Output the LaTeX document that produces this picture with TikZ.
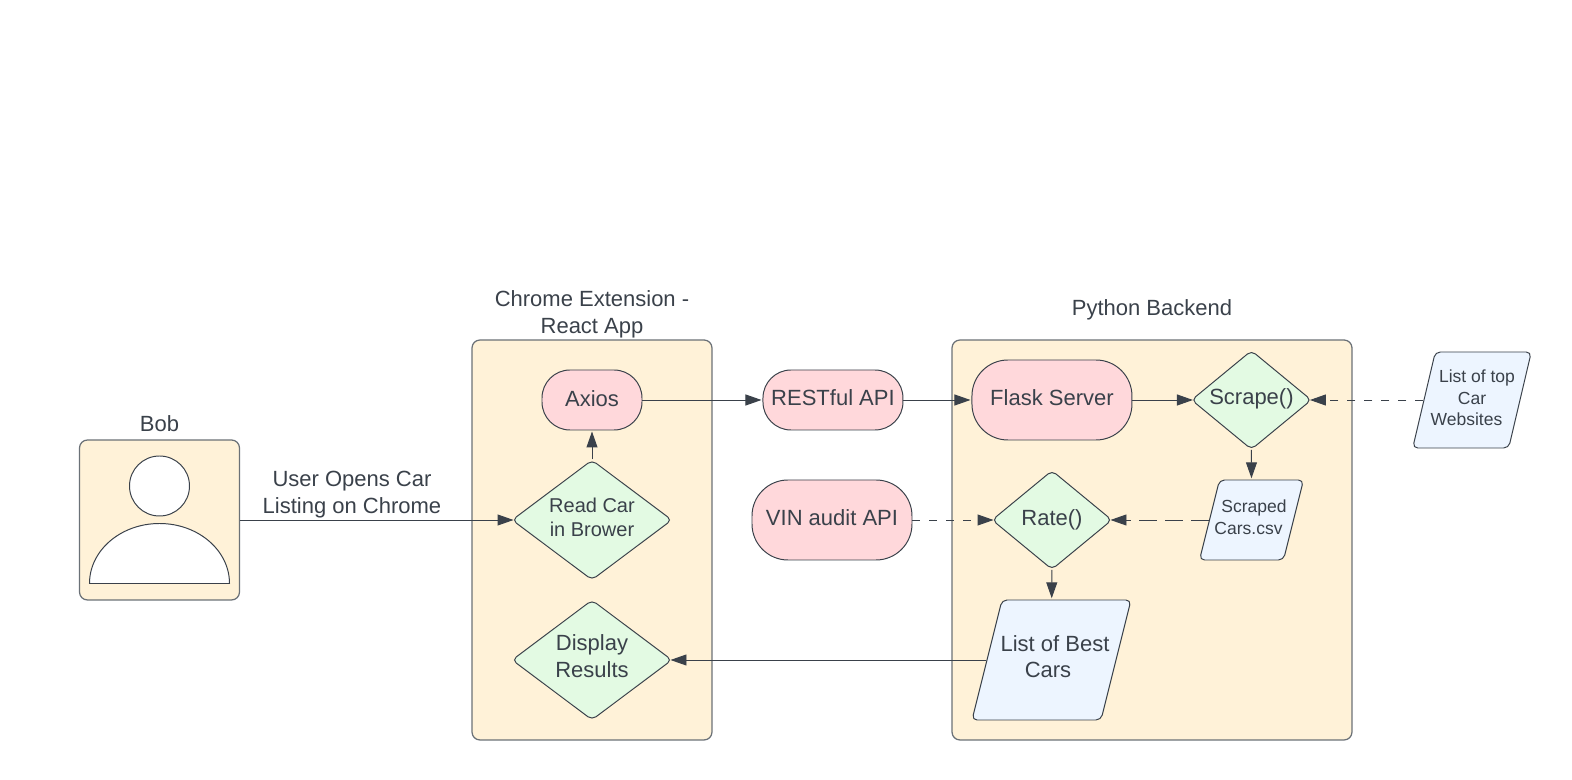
\documentclass[tikz,border=0pt]{standalone}
\usepackage{fontspec}
\setmainfont{Liberation Sans}
\usepackage{xcolor}
\usetikzlibrary{arrows.meta,positioning,shapes.geometric,calc}

\definecolor{inkGray}{HTML}{3A414A}
\definecolor{panelTan}{HTML}{FFF2D8}
\definecolor{apiPink}{HTML}{FFD8DB}
\definecolor{stepGreen}{HTML}{E3FAE3}
\definecolor{fileBlue}{HTML}{EDF5FF}

\newcommand{\bigText}{\fontsize{6.26}{7.57}\selectfont}
\newcommand{\midText}{\fontsize{5.69}{6.83}\selectfont}
\newcommand{\smallText}{\fontsize{4.98}{6.1}\selectfont}

% name, centre, half width, half height, slant, font and lift, text
\newcommand{\slantbox}[7]{
  \draw[fileShape, shift={(#2)}] (-#3+#5,#4) -- (#3+#5,#4) -- (#3-#5,-#4) -- (-#3-#5,-#4) -- cycle;
  \node[fileText, minimum width=2*#3 cm, minimum height=2*#4 cm, #6] (#1) at (#2) {#7};
}

\begin{document}
\begin{tikzpicture}[
  panel/.style={rectangle, rounded corners=0.8mm, draw=inkGray!75, fill=panelTan, line width=0.36pt, inner sep=0pt},
  pill/.style={rectangle, rounded corners=2.8mm, draw=inkGray, fill=apiPink, line width=0.28pt,
    align=center, inner sep=0pt, font=\bigText, text=inkGray},
  decision/.style={diamond, aspect=1.3, rounded corners=0.5mm, draw=inkGray, fill=stepGreen, line width=0.28pt,
    align=center, inner sep=0pt, font=\bigText, text=inkGray},
  fileShape/.style={rounded corners=0.5mm, draw=inkGray, fill=fileBlue, line width=0.28pt},
  fileText/.style={rectangle, align=center, inner sep=0pt, text=inkGray},
  caption/.style={align=center, inner sep=0pt, font=\bigText, text=inkGray},
  arrow/.style={-{Triangle[length=1.6mm,width=1.1mm]}, line width=0.28pt, draw=inkGray, shorten >=0.1mm},
  toDecision/.style={arrow, shorten >=-0.2mm},
  dashArrow/.style={toDecision, dash pattern=on 0.8mm off 0.9mm}
]
  \useasboundingbox (0,0) rectangle (15.72,-7.8);

  \node[panel, minimum width=1.6cm, minimum height=1.6cm] (bobBox) at (1.595,-5.2) {};
  \node[caption, above=0.07cm of bobBox] (bob) {Bob};
  \node[circle, draw=inkGray, fill=white, line width=0.28pt, minimum size=0.6cm, inner sep=0pt] (head) at (1.595,-4.86) {};
  \draw[draw=inkGray, fill=white, line width=0.28pt] (0.895,-5.835) arc[start angle=180, end angle=0, x radius=0.7, y radius=0.6] -- cycle;

  \node[panel, minimum width=2.4cm, minimum height=4cm] (chrome) at (5.92,-5.4) {};
  \node[caption, above=0.01cm of chrome] (chromeLabel) {Chrome Extension -\\React App};
  \node[panel, minimum width=4cm, minimum height=4cm] (backend) at (11.52,-5.4) {};
  \node[caption, above=0.19cm of backend] (backendLabel) {Python Backend};

  \node[pill, minimum width=1cm, minimum height=0.6cm, text depth=0.02cm] (axios) at (5.92,-4) {Axios};
  \node[decision, font=\midText, minimum width=1.6cm, minimum height=1.2cm, text depth=0.06cm] (readCar) at (5.92,-5.2) {Read Car\\in Brower};
  \node[decision, minimum width=1.6cm, minimum height=1.2cm, text depth=0.08cm] (results) at (5.92,-6.6) {Display\\Results};

  \node[pill, minimum width=1.4cm, minimum height=0.6cm, text depth=0.04cm, right=1.2cm of axios] (rest) {RESTful API};
  \node[pill, minimum width=1.6cm, minimum height=0.8cm, rounded corners=3.6mm, text depth=0.04cm] (vin) at (8.32,-5.2) {VIN audit API};
  \node[pill, minimum width=1.6cm, minimum height=0.8cm, rounded corners=3.6mm, text depth=0.04cm, right=0.68cm of rest] (flask) {Flask Server};

  \node[decision, minimum width=1.2cm, minimum height=0.99cm, text depth=0.07cm, right=0.585cm of flask] (scrape) {Scrape()};
  \node[decision, minimum width=1.2cm, minimum height=0.99cm] (rate) at (10.52,-5.2) {Rate()};

  \slantbox{scraped}{12.515,-5.2}{0.42}{0.4}{0.1}{font=\smallText, text depth=0.06cm}{\hspace*{0.05cm}Scraped\\Cars.csv\hspace*{0.06cm}}
  \slantbox{bestCars}{10.515,-6.6}{0.645}{0.6}{0.15}{font=\bigText, text depth=0.07cm}{\hspace*{0.07cm}List of Best\\Cars\hspace*{0.07cm}}
  \slantbox{topSites}{14.72,-4}{0.48}{0.48}{0.113}{font=\smallText, text depth=0.04cm}{\hspace*{0.1cm}List of top\\Car\\Websites\hspace*{0.11cm}}

  \node[caption] (opens) at (3.52,-4.945) {User Opens Car\\Listing on Chrome};

  \draw[toDecision] (bobBox.east) -- (readCar.west);
  \draw[arrow] (readCar) -- (axios);
  \draw[arrow] (axios) -- (rest);
  \draw[arrow] (rest) -- (flask);
  \draw[toDecision] (flask) -- (scrape);
  \draw[arrow] (scrape) -- (scraped);
  \draw[arrow] (rate) -- (bestCars);
  \draw[toDecision] (bestCars) -- (results);
  \draw[dashArrow] (topSites) -- (scrape);
  \draw[dashArrow] (vin) -- (rate);
  \draw[dashArrow, dash pattern=on 1.8mm off 0.8mm] (scraped) -- (rate);
\end{tikzpicture}
\end{document}
